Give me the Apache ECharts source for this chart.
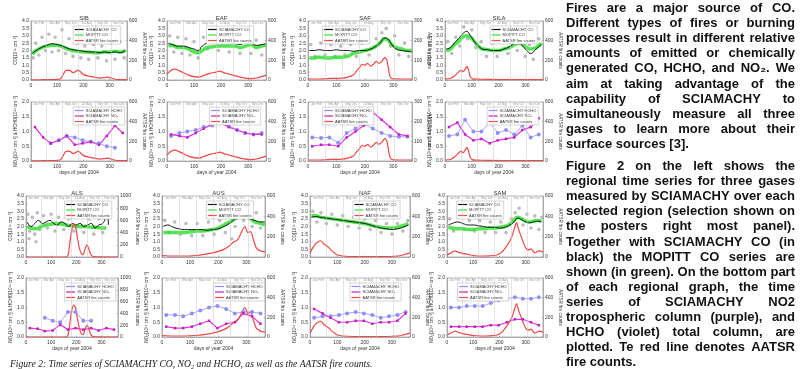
<!DOCTYPE html>
<html>
<head>
<meta charset="utf-8">
<script src="https://cdn.jsdelivr.net/npm/echarts@6.0.0/dist/echarts.min.js"></script>
<style>
html, body { margin: 0; padding: 0; background: #fff; }
#main { width: 802px; height: 369px; }
</style>
</head>
<body>
<div id="main"></div>
<script>
// 月份分段（图内顶部的小标签）
var monthEdges = [0, 60, 121, 182, 244, 305, 366];
var monthNames = ['Jan Feb', 'Mar Apr', 'May Jun', 'Jul Aug', 'Sep Oct', 'Nov Dec'];
// NO2 / HCHO 月均值的日期
var monthDays = [15, 46, 75, 106, 136, 167, 197, 228, 259, 289, 320, 350];

// SIB
var sibScia = [[5,1.8],[20,2.0],[40,2.2],[60,2.35],[80,2.45],[100,2.4],[120,2.3],[140,2.15],[160,2.05],[180,2.0],[200,1.95],[220,1.9],[240,1.9],[260,1.85],[280,1.9],[300,1.85],[320,1.9],[340,1.85],[360,2.0]];
var sibMopitt = [[5,1.75],[20,2.0],[40,2.2],[60,2.3],[80,2.35],[100,2.35],[120,2.25],[140,2.1],[160,2.0],[180,1.95],[200,1.9],[220,1.9],[240,1.85],[260,1.85],[280,1.9],[300,1.9],[320,1.95],[340,1.9],[360,2.0]];
var sibScatter = [[8,1.5],[18,2.5],[30,1.7],[42,2.9],[55,2.0],[68,3.1],[80,1.9],[92,2.9],[105,2.0],[118,3.4],[132,1.8],[145,2.8],[160,1.6],[175,2.5],[190,1.5],[205,2.3],[220,1.4],[238,2.4],[255,1.5],[270,2.3],[288,1.3],[305,2.5],[320,1.4],[340,2.6],[355,1.5]];
var sibFire = [[0,2],[40,3],[80,5],[110,10],[120,40],[130,90],[140,100],[150,95],[160,75],[170,85],[180,100],[190,80],[200,55],[220,40],[240,30],[260,20],[280,25],[295,30],[310,15],[330,5],[366,3]];
var sibNo2 = [1.15, 0.8, 0.6, 0.7, 0.85, 0.55, 0.6, 0.65, 0.55, 0.85, 1.2, 0.95];
var sibHcho = [null, null, 0.6, 0.7, 0.85, 0.8, 0.7, 0.65, 0.6, 0.5, 0.45, null];

// EAF
var eafScia = [[5,2.5],[20,2.4],[40,2.3],[60,2.3],[80,2.2],[100,2.1],[115,2.0],[130,2.3],[150,2.5],[170,2.55],[190,2.6],[210,2.55],[230,2.6],[250,2.5],[270,2.4],[290,2.5],[310,2.5],[330,2.35],[350,2.4],[365,2.45]];
var eafMopitt = [[5,2.3],[20,2.35],[40,2.2],[60,2.2],[80,2.1],[100,1.9],[115,1.85],[130,2.0],[150,2.2],[170,2.25],[190,2.3],[210,2.3],[230,2.3],[250,2.3],[270,2.2],[290,2.3],[310,2.4],[330,2.2],[350,2.3],[365,2.35]];
var eafScatter = [[10,3.0],[25,1.9],[40,2.9],[55,1.8],[70,2.8],[85,1.7],[100,2.6],[115,1.5],[135,2.9],[150,2.1],[170,3.0],[190,2.0],[210,3.1],[230,1.9],[250,3.0],[270,1.8],[290,2.9],[310,1.8],[330,2.7],[350,1.7]];
var eafFire = [[0,60],[15,100],[30,110],[45,95],[60,75],[80,50],[100,35],[120,30],[140,50],[160,70],[180,80],[195,90],[210,75],[230,60],[250,45],[270,30],[290,20],[310,15],[330,20],[350,35],[366,50]];
var eafNo2 = [0.9, 0.85, 0.8, 0.95, 1.1, 1.25, 1.3, 1.15, 1.05, 0.95, 0.9, 0.9];
var eafHcho = [0.85, 0.95, 1.0, 1.05, 1.15, 1.2, 1.3, 1.2, 1.05, 0.95, 0.9, 0.95];

// SAF
var safScia = [[5,2.0],[20,2.0],[40,2.05],[60,2.0],[80,2.0],[100,2.05],[120,2.0],[140,2.0],[160,1.95],[180,2.0],[200,2.0],[220,2.1],[240,2.3],[255,2.55],[270,2.85],[280,2.8],[295,2.4],[310,2.1],[330,2.0],[350,1.95],[365,1.9]];
var safMopitt = [[5,1.5],[20,1.5],[40,1.55],[60,1.5],[80,1.5],[100,1.55],[120,1.55],[140,1.6],[160,1.8],[180,1.9],[200,2.0],[220,2.1],[240,2.3],[255,2.55],[270,2.8],[282,2.7],[295,2.4],[310,2.2],[330,2.1],[350,2.0],[365,2.0]];
var safScatter = [[10,2.4],[25,1.6],[45,2.5],[60,1.7],[80,2.4],[95,1.6],[115,2.3],[130,1.7],[150,2.4],[170,1.6],[190,2.5],[215,1.7],[240,2.8],[260,3.2],[275,3.5],[290,2.3],[305,3.0],[320,1.7],[340,2.5],[355,1.6]];
var safFire = [[0,5],[40,5],[80,8],[120,10],[140,15],[160,25],[170,45],[180,60],[190,80],[200,75],[210,85],[220,70],[230,80],[240,95],[250,85],[260,95],[270,115],[278,100],[285,40],[292,10],[320,5],[366,5]];
var safNo2 = [0.5, 0.55, 0.55, 0.5, 0.8, 1.0, 1.2, 1.65, 1.4, 1.15, 0.9, 0.85];
var safHcho = [0.8, 0.78, 0.8, 0.62, 0.95, 1.1, 1.25, 1.1, 0.95, 0.85, 0.82, 0.82];

// SILA
var silaScia = [[5,2.1],[20,2.2],[35,2.5],[50,2.8],[65,3.1],[80,3.3],[95,3.0],[110,2.6],[125,2.3],[140,2.1],[160,2.05],[180,2.0],[200,2.0],[220,2.1],[240,2.25],[260,2.5],[275,2.55],[290,2.3],[305,2.0],[320,1.8],[340,2.1],[360,2.4]];
var silaMopitt = [[5,2.0],[20,2.1],[35,2.4],[50,2.6],[65,2.9],[80,3.0],[95,2.9],[110,2.6],[125,2.3],[140,2.1],[160,2.05],[180,2.0],[200,2.0],[220,2.1],[240,2.2],[260,2.4],[275,2.5],[290,2.4],[305,2.2],[320,2.1],[340,2.2],[360,2.5]];
var silaScatter = [[10,2.6],[25,1.8],[40,2.9],[55,2.3],[70,3.6],[85,2.8],[100,3.4],[115,2.2],[135,2.6],[155,1.6],[175,2.5],[195,1.6],[215,2.6],[235,1.8],[255,2.9],[270,2.0],[285,2.8],[300,1.6],[315,2.4],[330,1.4],[350,2.8]];
var silaFire = [[0,10],[20,15],[35,40],[50,80],[60,100],[68,85],[75,110],[82,140],[88,100],[95,30],[105,12],[130,8],[200,5],[300,5],[366,5]];
var silaNo2 = [1.15, 1.3, 0.9, 0.7, 0.75, 0.6, 0.7, 0.75, 0.8, 1.05, 1.15, 1.45];
var silaHcho = [0.85, 0.9, 1.4, 1.0, 1.0, 1.3, 0.95, 1.05, 0.9, 1.2, 0.8, 0.9];

// ALS
var alsScia = [[5,2.3],[20,2.0],[35,2.2],[50,2.4],[65,2.2],[80,2.3],[95,2.4],[110,2.2],[125,2.1],[140,2.3],[155,2.2],[170,2.0],[185,2.2],[200,2.1],[215,2.2],[230,2.0],[245,2.1],[260,2.2],[275,1.9],[290,2.1],[305,2.2],[315,2.5],[322,2.9],[328,2.1]];
var alsMopitt = [[5,2.0],[20,1.9],[40,1.85],[60,2.0],[80,2.1],[100,2.15],[120,2.2],[140,2.15],[160,2.1],[180,2.05],[200,2.0],[220,2.0],[240,2.0],[260,1.95],[280,1.95],[300,1.9],[320,1.9]];
var alsScatter = [[8,2.8],[12,1.2],[15,1.7],[25,2.6],[35,1.5],[40,1.0],[45,2.9],[55,1.8],[70,2.7],[85,1.9],[100,2.8],[115,1.7],[130,2.6],[150,1.8],[170,2.5],[190,1.7],[210,2.6],[230,1.6],[250,2.5],[270,1.5],[290,2.5],[305,1.6],[318,2.9],[325,3.3]];
var alsFire = [[0,0],[160,0],[168,40],[175,250],[182,450],[190,540],[197,500],[204,330],[212,150],[220,60],[228,40],[236,150],[243,200],[250,130],[258,40],[268,5],[366,0]];
var alsNo2 = [0.3, 0.28, 0.2, 0.22, 0.42, 0.25, 0.3, 0.25, 0.3, 0.22, 0.3, 0.25];
var alsHcho = [null, null, 0.65, 0.55, 0.5, 0.85, 0.85, 0.55, 0.55, null, null, null];

// AUS
var ausScia = [[5,2.0],[20,2.1],[40,1.95],[60,1.85],[80,1.8],[100,1.8],[120,1.8],[140,1.8],[160,1.75],[180,1.8],[200,1.85],[220,2.0],[240,2.2],[260,2.5],[275,2.7],[290,2.85],[300,2.7],[315,2.5],[330,2.4],[350,2.3],[365,2.3]];
var ausMopitt = [[5,1.6],[20,1.6],[40,1.6],[60,1.6],[80,1.6],[100,1.65],[120,1.7],[140,1.7],[160,1.75],[180,1.8],[200,1.9],[220,2.1],[240,2.3],[260,2.5],[275,2.7],[290,2.85],[300,2.75],[315,2.5],[330,2.3],[350,2.2],[365,2.1]];
var ausScatter = [[10,2.4],[25,1.6],[45,2.3],[65,1.5],[85,2.2],[105,1.4],[125,2.2],[145,1.4],[165,2.3],[185,1.5],[205,2.4],[220,3.3],[225,1.6],[245,2.7],[248,1.2],[260,2.0],[275,3.2],[290,2.4],[305,3.1],[320,2.0],[335,2.9],[350,1.9]];
var ausFire = [[0,15],[40,10],[80,10],[120,15],[150,25],[180,40],[200,55],[220,75],[240,110],[255,150],[265,160],[275,200],[285,260],[295,300],[305,240],[315,250],[325,170],[335,90],[350,60],[366,50]];
var ausNo2 = [0.35, 0.3, 0.3, 0.35, 0.45, 0.55, 0.3, 0.45, 0.5, 0.8, 0.7, 0.45];
var ausHcho = [0.75, 0.75, 0.7, 0.8, 0.9, 1.0, 1.05, 0.95, 0.8, 0.85, 0.85, 0.8];

// NAF
var nafScia = [[5,2.6],[20,2.65],[40,2.6],[60,2.55],[80,2.5],[100,2.45],[120,2.4],[140,2.35],[160,2.3],[180,2.25],[200,2.2],[220,2.1],[240,2.0],[260,1.9],[280,1.85],[300,1.8],[320,1.85],[340,1.95],[360,2.1]];
var nafMopitt = [[5,2.7],[20,2.7],[40,2.6],[60,2.55],[80,2.5],[100,2.45],[120,2.4],[140,2.35],[160,2.3],[180,2.25],[200,2.2],[220,2.1],[240,2.0],[260,1.95],[280,1.9],[300,1.9],[320,1.95],[340,2.05],[360,2.2]];
var nafScatter = [[10,3.0],[25,2.3],[40,2.9],[60,2.2],[80,2.8],[100,2.1],[120,2.7],[140,2.0],[160,2.6],[180,1.9],[200,2.5],[220,1.8],[240,2.4],[260,1.6],[280,2.2],[300,1.5],[320,2.2],[340,1.7],[358,2.4]];
var nafFire = [[0,40],[10,90],[20,130],[30,150],[40,160],[50,130],[60,110],[70,90],[80,60],[90,40],[100,20],[120,10],[160,5],[220,5],[280,5],[320,10],[340,20],[366,40]];
var nafNo2 = [0.95, 0.8, 0.65, 0.5, 0.5, 0.55, 0.55, 0.45, 0.5, 0.5, 0.55, 0.8];
var nafHcho = [0.65, 0.7, 0.7, 0.75, 0.8, 0.85, 0.8, 0.75, 0.65, 0.7, 0.75, 0.85];

// SAM
var samScia = [[5,2.1],[20,2.2],[40,2.3],[60,2.2],[80,2.1],[100,2.1],[120,2.05],[140,2.0],[160,1.95],[180,1.95],[200,1.9],[220,1.95],[240,2.1],[255,2.3],[270,2.55],[285,2.45],[300,2.3],[315,2.25],[330,2.3],[345,2.35],[360,2.3]];
var samMopitt = [[5,1.95],[20,1.9],[40,1.85],[60,1.85],[80,1.8],[100,1.8],[120,1.85],[140,1.85],[160,1.9],[180,1.9],[200,1.95],[220,2.0],[240,2.15],[255,2.4],[270,2.6],[285,2.5],[300,2.35],[315,2.3],[330,2.35],[345,2.4],[360,2.35]];
var samScatter = [[10,2.5],[25,1.7],[45,2.6],[65,1.8],[85,2.4],[105,1.7],[125,2.4],[145,1.6],[165,2.3],[185,1.6],[205,2.3],[225,1.6],[245,2.5],[260,2.9],[275,3.2],[290,2.1],[305,2.8],[320,1.9],[335,2.7],[350,1.8],[362,2.6]];
var samFire = [[0,20],[15,40],[30,60],[45,45],[60,35],[80,25],[100,15],[130,10],[160,12],[190,20],[210,50],[225,100],[240,160],[250,220],[258,290],[265,340],[272,280],[280,220],[290,150],[300,90],[310,70],[320,80],[335,40],[350,60],[366,50]];
var samNo2 = [0.35, 0.35, 0.35, 0.35, 0.35, 0.4, 0.4, 0.5, 0.6, 0.6, 0.5, 0.4];
var samHcho = [1.0, 1.0, 1.05, 1.05, 1.05, 1.15, 1.25, 1.3, 1.35, 1.3, 1.3, 1.35];

// 右侧文字
var para1 = ['Fires are a major source of CO.', 'Different types of fires or burning', 'processes result in different relative', 'amounts of emitted or chemically', 'generated CO, HCHO, and NO\u2082. We', 'aim at taking advantage of the', 'capability of SCIAMACHY to', 'simultaneously measure all three', 'gases to learn more about their', 'surface sources [3].'];
var para2 = ['Figure 2 on the left shows the', 'regional time series for three gases', 'measured by SCIAMACHY over each', 'selected region (selection shown on', 'the posters right most panel).', 'Together with SCIAMACHY CO (in', 'black) the MOPITT CO series are', 'shown (in green). On the bottom part', 'of each regional graph, the time', 'series of SCIAMACHY NO2', 'tropospheric column (purple), and', 'HCHO (violet) total column, are', 'plotted. Te red line denotes AATSR', 'fire counts.'];
var caption = 'Figure 2: Time series of SCIAMACHY CO, NO\u2082 and HCHO, as well as the AATSR fire counts.';

var panels = [
    {name: 'SIB', x0: 31, x1: 127, row: 0, fireMax: 600, lg1: 0.44, lg2: 0.44, scia: sibScia, mopitt: sibMopitt, scatter: sibScatter, fire: sibFire, no2: sibNo2, hcho: sibHcho},
    {name: 'EAF', x0: 167, x1: 266, row: 0, fireMax: 600, lg1: 0.40, lg2: 0.43, scia: eafScia, mopitt: eafMopitt, scatter: eafScatter, fire: eafFire, no2: eafNo2, hcho: eafHcho},
    {name: 'SAF', x0: 308, x1: 412, row: 0, fireMax: 300, lg1: 0.14, lg2: 0.14, scia: safScia, mopitt: safMopitt, scatter: safScatter, fire: safFire, no2: safNo2, hcho: safHcho},
    {name: 'SILA', x0: 445, x1: 543, row: 0, fireMax: 600, lg1: 0.46, lg2: 0.43, scia: silaScia, mopitt: silaMopitt, scatter: silaScatter, fire: silaFire, no2: silaNo2, hcho: silaHcho},
    {name: 'ALS', x0: 26, x1: 118, row: 1, fireMax: 1000, lg1: 0.42, lg2: 0.42, scia: alsScia, mopitt: alsMopitt, scatter: alsScatter, fire: alsFire, no2: alsNo2, hcho: alsHcho},
    {name: 'AUS', x0: 162, x1: 265, row: 1, fireMax: 600, lg1: 0.43, lg2: 0.5, scia: ausScia, mopitt: ausMopitt, scatter: ausScatter, fire: ausFire, no2: ausNo2, hcho: ausHcho},
    {name: 'NAF', x0: 310, x1: 410, row: 1, fireMax: 600, lg1: 0.43, lg2: 0.4, scia: nafScia, mopitt: nafMopitt, scatter: nafScatter, fire: nafFire, no2: nafNo2, hcho: nafHcho},
    {name: 'SAM', x0: 447, x1: 543, row: 1, fireMax: 600, lg1: 0.1, lg2: 0.11, scia: samScia, mopitt: samMopitt, scatter: samScatter, fire: samFire, no2: samNo2, hcho: samHcho}
];

var rowBoxes = [
    [[21, 80], [102, 161]],
    [[196, 257], [278, 337]]
];

var FONT = '"Liberation Sans", Arial, sans-serif';
var grids = [], xAxes = [], yAxes = [], series = [], legends = [], titles = [];

function xAxisCfg(gi, withName) {
    return {
        gridIndex: gi, type: 'value', min: 0, max: 366, interval: 100,
        name: withName ? 'days of year 2004' : '',
        nameLocation: 'middle', nameGap: 9,
        nameTextStyle: {fontSize: 5, color: '#333', fontFamily: FONT},
        axisLine: {lineStyle: {color: '#888', width: 0.6}},
        axisTick: {inside: true, length: 1.5, lineStyle: {color: '#888', width: 0.5}},
        axisLabel: {fontSize: 5, color: '#333', margin: 3, fontFamily: FONT,
            formatter: function (v) { return v % 100 === 0 ? String(v) : ''; }},
        splitLine: {show: false}
    };
}

function leftAxisCfg(gi, max, name) {
    return {
        gridIndex: gi, type: 'value', position: 'left', min: 0, max: max, interval: 0.5,
        name: name, nameLocation: 'middle', nameGap: 11, nameRotate: 90,
        nameTextStyle: {fontSize: 4.5, color: '#333', fontFamily: FONT},
        axisLine: {show: true, lineStyle: {color: '#888', width: 0.6}},
        axisTick: {inside: true, length: 1.5, lineStyle: {color: '#888', width: 0.5}},
        axisLabel: {fontSize: 5, color: '#333', margin: 2, fontFamily: FONT,
            formatter: function (v) { return v.toFixed(1); }},
        splitLine: {show: false}
    };
}

function rightAxisCfg(gi, max) {
    return {
        gridIndex: gi, type: 'value', position: 'right', min: 0, max: max,
        interval: max === 1000 ? 200 : max / 3,
        name: 'AATSR fire counts', nameLocation: 'middle', nameGap: 13, nameRotate: -90,
        nameTextStyle: {fontSize: 4.5, color: '#333', fontFamily: FONT},
        axisLine: {show: true, lineStyle: {color: '#888', width: 0.6}},
        axisTick: {inside: true, length: 1.5, lineStyle: {color: '#888', width: 0.5}},
        axisLabel: {fontSize: 5, color: '#333', margin: 2, fontFamily: FONT,
            formatter: function (v) { return String(v); }},
        splitLine: {show: false}
    };
}

function monthMarks() {
    var lines = [], areas = [];
    for (var i = 1; i < monthEdges.length - 1; i++) {
        lines.push({xAxis: monthEdges[i]});
    }
    for (var j = 0; j < monthNames.length; j++) {
        areas.push([{xAxis: monthEdges[j], name: monthNames[j]}, {xAxis: monthEdges[j + 1]}]);
    }
    return {
        markLine: {silent: true, symbol: 'none', animation: false,
            lineStyle: {color: '#c8c8c8', width: 0.5, type: 'solid'},
            label: {show: false}, data: lines},
        markArea: {silent: true, itemStyle: {color: 'rgba(0,0,0,0)'},
            label: {show: true, position: 'insideTop', distance: 1, fontSize: 3, color: '#999', fontFamily: FONT},
            data: areas}
    };
}

function legendCfg(p, top, frac, names) {
    return {
        data: names, orient: 'vertical',
        left: p.x0 + frac * (p.x1 - p.x0), top: top,
        icon: 'rect', itemWidth: 9, itemHeight: 1.2, itemGap: 1.5,
        padding: [1.5, 2, 1.5, 1.5],
        backgroundColor: '#fff', borderColor: '#aaa', borderWidth: 0.5,
        textStyle: {fontSize: 4, color: '#333', fontFamily: FONT, padding: [0, 0, 0, -3]},
        selectedMode: false
    };
}

panels.forEach(function (p) {
    var box = rowBoxes[p.row];
    var w = p.x1 - p.x0;

    titles.push({
        text: p.name, left: p.x0 + w / 2, top: box[0][0] - 11, textAlign: 'center',
        textStyle: {fontSize: 6, fontWeight: 'normal', color: '#333', fontFamily: FONT}
    });

    // 上图：CO
    var gi = grids.length, yi = yAxes.length;
    grids.push({left: p.x0, top: box[0][0], width: w, height: box[0][1] - box[0][0], show: true, borderColor: '#888', borderWidth: 0.6});
    xAxes.push(xAxisCfg(gi, false));
    yAxes.push(leftAxisCfg(gi, 4, 'CO[10\u00b9\u2078 cm\u207b\u00b2]'));
    yAxes.push(rightAxisCfg(gi, p.fireMax));
    var mk = monthMarks();
    series.push({type: 'scatter', name: 'SCIAMACHY CO pixel', xAxisIndex: gi, yAxisIndex: yi, data: p.scatter,
        symbol: 'emptyCircle', symbolSize: 1.6, itemStyle: {color: '#a8a8a8', borderWidth: 0.5}, silent: true});
    series.push({type: 'line', name: 'MOPITT CO', xAxisIndex: gi, yAxisIndex: yi, data: p.mopitt, smooth: true, showSymbol: false,
        lineStyle: {color: '#33e033', width: 3.5, opacity: 0.85}, itemStyle: {color: '#33e033'}});
    series.push({type: 'line', name: 'SCIAMACHY CO', xAxisIndex: gi, yAxisIndex: yi, data: p.scia, smooth: true, showSymbol: false,
        lineStyle: {color: '#111', width: 1}, itemStyle: {color: '#111'}, markLine: mk.markLine, markArea: mk.markArea});
    series.push({type: 'line', name: 'AATSR fire counts', xAxisIndex: gi, yAxisIndex: yi + 1, data: p.fire, smooth: 0.2, showSymbol: false,
        lineStyle: {color: '#f04848', width: 1.2}, itemStyle: {color: '#f04848'}});
    legends.push(legendCfg(p, box[0][0] + 5, p.lg1, ['SCIAMACHY CO', 'MOPITT CO', 'AATSR fire counts']));

    // 下图：NO2 与 HCHO
    gi = grids.length; yi = yAxes.length;
    grids.push({left: p.x0, top: box[1][0], width: w, height: box[1][1] - box[1][0], show: true, borderColor: '#888', borderWidth: 0.6});
    xAxes.push(xAxisCfg(gi, true));
    yAxes.push(leftAxisCfg(gi, 2, 'NO\u2082[10\u00b9\u2075 cm\u207b\u00b2] & HCHO[10\u00b9\u2076 cm\u207b\u00b2]'));
    yAxes.push(rightAxisCfg(gi, p.fireMax));
    var hchoData = [], no2Data = [];
    for (var i = 0; i < monthDays.length; i++) {
        if (p.hcho[i] !== null) hchoData.push([monthDays[i], p.hcho[i]]);
        if (p.no2[i] !== null) no2Data.push([monthDays[i], p.no2[i]]);
    }
    var mk2 = monthMarks();
    series.push({type: 'line', name: 'SCIAMACHY HCHO', xAxisIndex: gi, yAxisIndex: yi, data: hchoData,
        symbol: 'emptyCircle', symbolSize: 2, lineStyle: {color: '#8f8ff2', width: 0.8}, itemStyle: {color: '#8f8ff2', borderWidth: 0.6},
        markLine: mk2.markLine, markArea: mk2.markArea});
    series.push({type: 'line', name: 'SCIAMACHY NO\u2082', xAxisIndex: gi, yAxisIndex: yi, data: no2Data,
        symbol: 'rect', symbolSize: 2.5, lineStyle: {color: '#e030e0', width: 1.2}, itemStyle: {color: '#c020c0'}});
    series.push({type: 'line', name: 'AATSR fire counts', xAxisIndex: gi, yAxisIndex: yi + 1, data: p.fire, smooth: 0.2, showSymbol: false,
        lineStyle: {color: '#f04848', width: 1.2}, itemStyle: {color: '#f04848'}});
    legends.push(legendCfg(p, box[1][0] + 5, p.lg2, ['SCIAMACHY HCHO', 'SCIAMACHY NO\u2082', 'AATSR fire counts']));
});

// 两端对齐的段落
var TEXT_FONT = 'bold 13px "Liberation Sans", Arial, sans-serif';
var measureCtx = document.createElement('canvas').getContext('2d');
measureCtx.font = TEXT_FONT;
var graphics = [];

function addParagraph(lines, x0, x1, y0, step) {
    lines.forEach(function (line, li) {
        var words = line.split(' ');
        var y = y0 + li * step;
        var widths = words.map(function (wd) { return measureCtx.measureText(wd).width; });
        var total = widths.reduce(function (a, b) { return a + b; }, 0);
        var last = li === lines.length - 1;
        var gap = (!last && words.length > 1) ? (x1 - x0 - total) / (words.length - 1) : measureCtx.measureText(' ').width;
        var x = x0;
        words.forEach(function (wd, wi) {
            graphics.push({type: 'text', x: x, y: y, silent: true,
                style: {text: wd, font: TEXT_FONT, fill: '#111', verticalAlign: 'middle', align: 'left'}});
            x += widths[wi] + gap;
        });
    });
}
addParagraph(para1, 566, 795, 8.5, 15.1);
addParagraph(para2, 566, 795, 166.5, 15.1);

graphics.push({type: 'text', x: 10, y: 364, silent: true,
    style: {text: caption, font: 'italic 9.6px "Liberation Serif", "Times New Roman", serif', fill: '#222', verticalAlign: 'middle', align: 'left'}});

var myCharts = echarts.init(document.getElementById('main'), null, {renderer: 'canvas'});
var option = {
    backgroundColor: '#fff',
    animation: false,
    title: titles,
    legend: legends,
    grid: grids,
    xAxis: xAxes,
    yAxis: yAxes,
    series: series,
    graphic: graphics
};
myCharts.setOption(option);
</script>
</body>
</html>
